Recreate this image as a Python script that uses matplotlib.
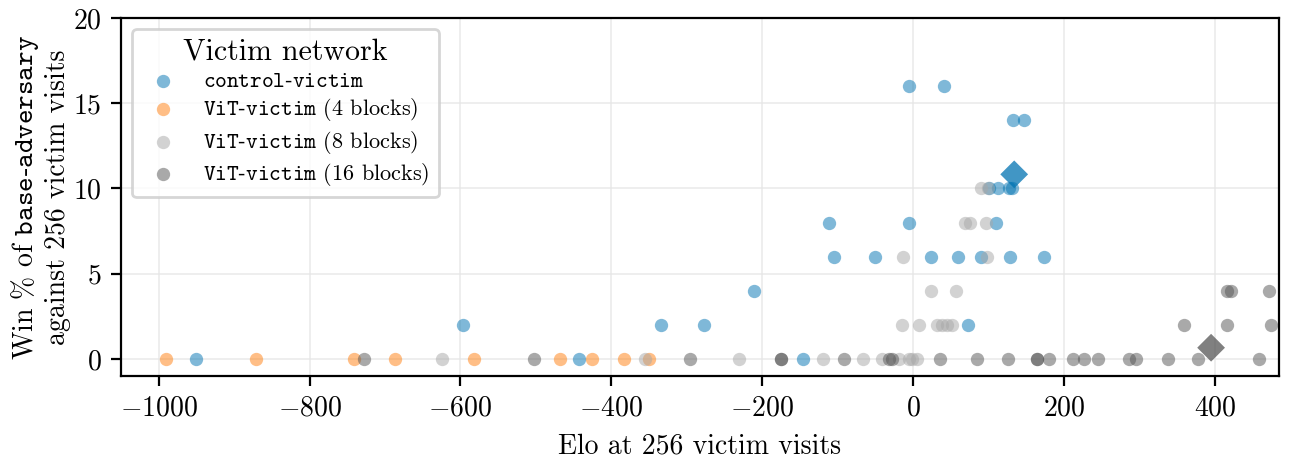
import matplotlib
matplotlib.use("Agg")
import matplotlib.pyplot as plt

plt.rcParams["font.family"] = "cmr10"
plt.rcParams["mathtext.fontset"] = "cm"
plt.rcParams["axes.formatter.use_mathtext"] = True
plt.rcParams["axes.unicode_minus"] = True

# ===============================
# dados
# ===============================
# control-victim
ctrl_elo = [-951, -443, -146,
            -596, -334, -277, 73,
            -211,
            -105, -51, 24, 59, 90, 129, 174,
            -112, -5, 110,
            100, 112, 127, 131,
            132, 147,
            -6, 41]
ctrl_win = [0, 0, 0,
            2, 2, 2, 2,
            4,
            6, 6, 6, 6, 6, 6, 6,
            8, 8, 8,
            10, 10, 10, 10,
            14, 14,
            16, 16]

# ViT-victim (4 blocks)
vit4_elo = [-990, -871, -741, -687, -582, -468, -426, -383, -350]
vit4_win = [0, 0, 0, 0, 0, 0, 0, 0, 0]

# ViT-victim (8 blocks)
vit8_elo = [-624, -355, -231, -119, -67, -41, -19, -6, -1, 5,
            -15, 8, 32, 38, 45, 52,
            24, 57,
            -14, 98,
            69, 76, 96,
            90, 99]
vit8_win = [0, 0, 0, 0, 0, 0, 0, 0, 0, 0,
            2, 2, 2, 2, 2, 2,
            4, 4,
            6, 6,
            8, 8, 8,
            10, 10]

# ViT-victim (16 blocks)
vit16_elo = [-728, -503, -296, -175, -175, -92, -32, -28, 36, 85, 126,
             164, 164, 180, 212, 226, 245, 286, 295, 338, 378, 459,
             359, 416, 475,
             416, 421, 472]
vit16_win = [0] * 22 + [2, 2, 2] + [4, 4, 4]

# médias (losangos)
mean_elo = [134, 395]
mean_win = [10.83, 0.66]

C_CTRL = "#0173b2"
C_VIT4 = "#ff7f0e"
C_VIT8 = "#a7a7a7"
C_VIT16 = "#555555"

# ===============================
# plot
# ===============================
fig = plt.figure(figsize=(6.47, 2.285), dpi=200)
ax = fig.add_axes([0.0935, 0.1772, 0.8949, 0.7834])

kw = dict(s=23, alpha=0.5, linewidths=0)
ax.scatter(ctrl_elo, ctrl_win, color=C_CTRL, label=r"$\mathtt{control‐victim}$", **kw)
ax.scatter(vit4_elo, vit4_win, color=C_VIT4, label=r"$\mathtt{ViT‐victim}$ (4 blocks)", **kw)
ax.scatter(vit8_elo, vit8_win, color=C_VIT8, label=r"$\mathtt{ViT‐victim}$ (8 blocks)", **kw)
ax.scatter(vit16_elo, vit16_win, color=C_VIT16, label=r"$\mathtt{ViT‐victim}$ (16 blocks)", **kw)

# losangos
ax.scatter(mean_elo, mean_win, color=[C_CTRL, C_VIT16], marker="D", s=50,
           alpha=0.75, linewidths=0)

ax.set_xlim(-1050, 485)
ax.set_ylim(-1, 20)
ax.set_xticks([-1000, -800, -600, -400, -200, 0, 200, 400])
ax.set_yticks([0, 5, 10, 15, 20])
ax.tick_params(labelsize=10, length=3.5, width=0.8)
ax.grid(True, color="#e6e6e6", linewidth=0.6, alpha=0.8)
ax.set_axisbelow(True)
for s in ax.spines.values():
    s.set_linewidth(0.8)

ax.set_xlabel("Elo at 256 victim visits", fontsize=10)
ax.set_ylabel("Win % of $\\mathtt{base‐adversary}$\nagainst 256 victim visits",
              fontsize=10, labelpad=0.5)

leg = ax.legend(title="Victim network", loc="upper left", fontsize=8,
                title_fontsize=10.8, labelspacing=0.25)

fig.savefig("out.png", dpi=200)
